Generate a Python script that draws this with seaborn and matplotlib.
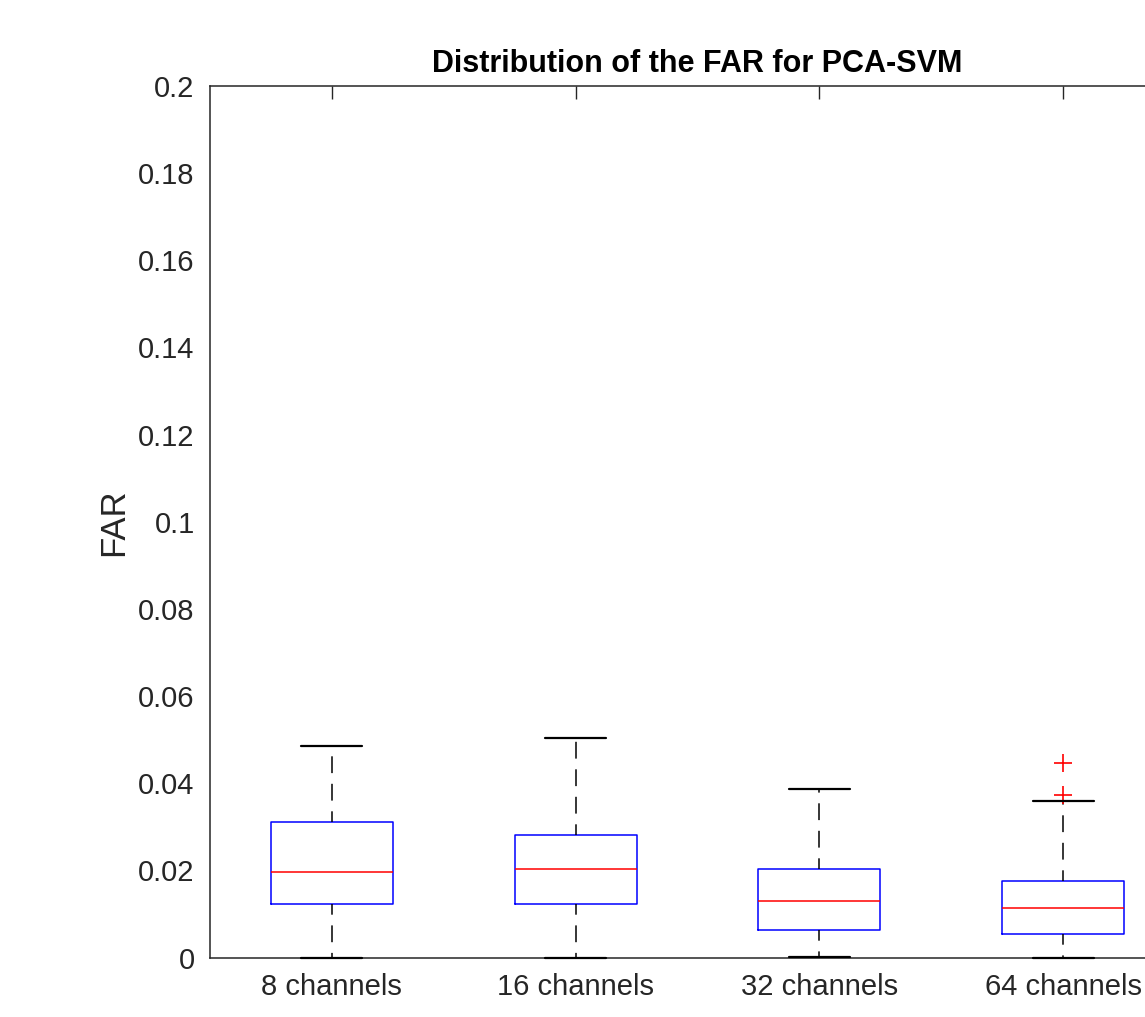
import pandas as pd
import matplotlib
matplotlib.use("Agg")
import matplotlib.pyplot as plt
from matplotlib.ticker import FuncFormatter
import seaborn as sns

# FAR values per channel setup
# (min, Q1, median, Q3, max; extra points for the outliers of 64 channels)
far_8 = [0.0, 0.0122, 0.0196, 0.0312, 0.0485]
far_16 = [0.0, 0.0122, 0.0204, 0.0282, 0.0504]
far_32 = [0.0001, 0.0063, 0.0129, 0.0204, 0.0386]
far_64 = [0.0, 0.001, 0.003, 0.0053, 0.007, 0.009, 0.0113, 0.013, 0.015,
          0.0176, 0.0358, 0.0374, 0.0446]

categories = ["8 channels", "16 channels", "32 channels", "64 channels"]
yticks = [0, 0.02, 0.04, 0.06, 0.08, 0.1, 0.12, 0.14, 0.16, 0.18, 0.2]

groups = [far_8, far_16, far_32, far_64]
df = pd.DataFrame({
    "channels": [c for c, g in zip(categories, groups) for _ in g],
    "FAR": [v for g in groups for v in g],
})

sns.set_theme(style="white")
plt.rcParams["font.family"] = ["Liberation Sans", "DejaVu Sans"]
text_col = "#262626"

fig = plt.figure(figsize=(11.45, 10.17), dpi=100)
ax = fig.add_axes([0.1834, 0.0585, 0.8515, 0.857])

sns.boxplot(
    data=df, x="channels", y="FAR", order=categories, ax=ax,
    width=0.5, fill=False, whis=1.5,
    boxprops=dict(color="blue", linewidth=1.1),
    medianprops=dict(color="red", linewidth=1.1),
    whiskerprops=dict(color="black", linewidth=1.1, linestyle=(4, (11, 7))),
    capprops=dict(color="black", linewidth=1.6, zorder=4, clip_on=False),
    flierprops=dict(marker="+", markeredgecolor="red", markerfacecolor="none",
                    markersize=13, markeredgewidth=1.2),
)

ax.set_xlim(-0.5, 3.5)
ax.set_ylim(0, 0.2)
ax.set_yticks(yticks)
ax.yaxis.set_major_formatter(FuncFormatter(lambda v, p: f"{v:g}"))
ax.tick_params(direction="in", top=True, right=True, length=9, width=1,
               labelsize=21, colors=text_col, pad=11)
for s in ax.spines.values():
    s.set_visible(True)
    s.set_color(text_col)
    s.set_linewidth(1.1)

ax.set_xlabel("")
ax.set_ylabel("FAR", fontsize=25, color=text_col, labelpad=6)
ax.set_title("Distribution of the FAR for PCA-SVM", fontsize=22, fontweight="bold",
             color="black", pad=10)

fig.savefig("out.png", dpi=100)
